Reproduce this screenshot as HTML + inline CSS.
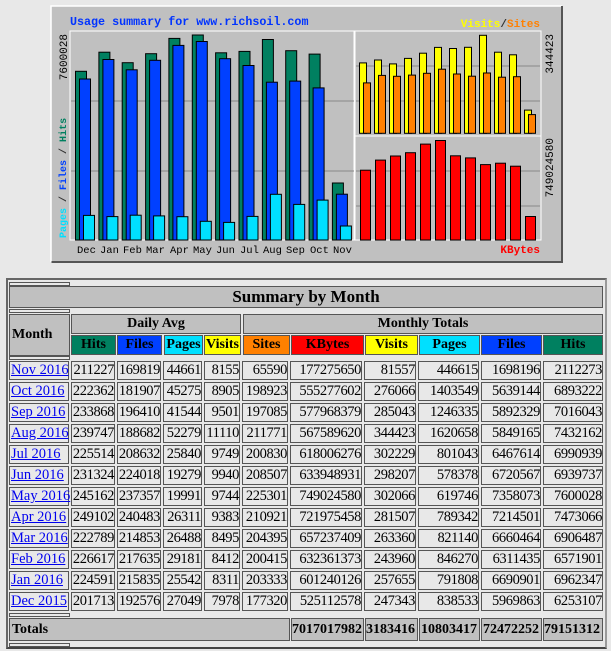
<!DOCTYPE html>
<html><head><meta charset="utf-8"><style>
body{margin:0;width:611px;height:651px;background:#e8e8e8;position:relative;overflow:hidden;font-family:"Liberation Serif",serif}
.a{position:absolute;box-sizing:border-box}
.c{border:1px solid #555;font-weight:bold;font-size:14px;text-align:center;line-height:17px}
.sp{position:absolute;left:9px;width:61px;height:4px;border:1px solid #555;background:#e8e8e8;box-sizing:border-box}
table{position:absolute;left:7px;top:359px;width:598px;border-collapse:separate;border-spacing:2px;table-layout:fixed}
td{box-sizing:border-box;border:1px solid #555;height:19px;padding:0;font-size:14.5px;letter-spacing:-0.4px;text-align:right;line-height:17px;background:#e8e8e8;white-space:nowrap;overflow:visible}
td:first-child{text-align:left;padding-left:1px;letter-spacing:0}
a{color:#00e;text-decoration:underline}
</style></head><body>
<svg class="a" style="left:0;top:0" width="611" height="270" font-family="Liberation Mono, DejaVu Sans Mono, monospace">
<rect x="51" y="6" width="511" height="256" fill="#c0c0c0"/>
<path d="M51 262V6H562" stroke="#fff" stroke-width="1.5" fill="none"/>
<path d="M51.5 262H562V6" stroke="#555" stroke-width="2" fill="none"/>
<text x="70" y="25" fill="#0033ff" font-weight="bold" font-size="11.7">Usage summary for www.richsoil.com</text>
<text x="540" y="27" text-anchor="end" font-size="11" font-weight="bold"><tspan fill="#ffff00">Visits</tspan><tspan fill="#333">/</tspan><tspan fill="#ff8000">Sites</tspan></text>
<text x="540" y="253" text-anchor="end" font-size="11" font-weight="bold" fill="#ff0000">KBytes</text>
<text transform="translate(67,34) rotate(-90)" text-anchor="end" font-size="11" fill="#000">7600028</text>
<text transform="translate(66,238) rotate(-90)" font-size="10" font-weight="bold"><tspan fill="#00e0ff">Pages</tspan><tspan fill="#333"> / </tspan><tspan fill="#0040ff">Files</tspan><tspan fill="#333"> / </tspan><tspan fill="#008060">Hits</tspan></text>
<text transform="translate(553,34) rotate(-90)" text-anchor="end" font-size="11" fill="#000">344423</text>
<text transform="translate(553,138) rotate(-90)" text-anchor="end" font-size="11" fill="#000">749024580</text>
<g font-size="10.5" fill="#000">
<text x="77" y="253">Dec</text><text x="100" y="253">Jan</text><text x="123" y="253">Feb</text><text x="146" y="253">Mar</text><text x="170" y="253">Apr</text><text x="193" y="253">May</text><text x="216" y="253">Jun</text><text x="240" y="253">Jul</text><text x="263" y="253">Aug</text><text x="286" y="253">Sep</text><text x="310" y="253">Oct</text><text x="333" y="253">Nov</text>
</g>
<g stroke="#fff" fill="none"><rect x="70" y="31" width="284" height="209"/><rect x="355" y="31" width="186" height="105"/><rect x="355" y="136" width="186" height="104"/></g>
<g stroke="#888"><line x1="71" x2="354" y1="101" y2="101"/><line x1="71" x2="354" y1="171" y2="171"/><line x1="356" x2="540" y1="66" y2="66"/><line x1="356" x2="540" y1="101" y2="101"/><line x1="356" x2="540" y1="171" y2="171"/><line x1="356" x2="540" y1="206" y2="206"/></g>
<g stroke="#000" stroke-width="1">
<g fill="#008060">
<rect x="75.5" y="71.3" width="11" height="168.7"/><rect x="98.9" y="52.2" width="11" height="187.8"/><rect x="122.2" y="62.7" width="11" height="177.3"/><rect x="145.6" y="53.7" width="11" height="186.3"/><rect x="168.9" y="38.4" width="11" height="201.6"/><rect x="192.3" y="35" width="11" height="205"/><rect x="215.6" y="52.8" width="11" height="187.2"/><rect x="239" y="51.4" width="11" height="188.6"/><rect x="262.4" y="39.5" width="11" height="200.5"/><rect x="285.7" y="50.7" width="11" height="189.3"/><rect x="309.1" y="54.1" width="11" height="185.9"/><rect x="332.4" y="183" width="11" height="57"/>
</g>
<g fill="#0040ff">
<rect x="79.5" y="79" width="11" height="161"/><rect x="102.9" y="59.5" width="11" height="180.5"/><rect x="126.2" y="69.8" width="11" height="170.2"/><rect x="149.6" y="60.3" width="11" height="179.7"/><rect x="172.9" y="45.4" width="11" height="194.6"/><rect x="196.3" y="41.5" width="11" height="198.5"/><rect x="219.6" y="58.7" width="11" height="181.3"/><rect x="243" y="65.5" width="11" height="174.5"/><rect x="266.4" y="82.2" width="11" height="157.8"/><rect x="289.7" y="81.1" width="11" height="158.9"/><rect x="313.1" y="87.9" width="11" height="152.1"/><rect x="336.4" y="194.2" width="11" height="45.8"/>
</g>
<g fill="#00e0ff">
<rect x="83.5" y="215.4" width="11" height="24.6"/><rect x="106.9" y="216.6" width="11" height="23.4"/><rect x="130.2" y="215.2" width="11" height="24.8"/><rect x="153.6" y="215.9" width="11" height="24.1"/><rect x="176.9" y="216.7" width="11" height="23.3"/><rect x="200.3" y="221.3" width="11" height="18.7"/><rect x="223.6" y="222.4" width="11" height="17.6"/><rect x="247" y="216.4" width="11" height="23.6"/><rect x="270.4" y="194.3" width="11" height="45.7"/><rect x="293.7" y="204.4" width="11" height="35.6"/><rect x="317.1" y="200.1" width="11" height="39.9"/><rect x="340.4" y="226" width="11" height="14"/>
</g>
<g fill="#ffff00">
<rect x="359.5" y="62.9" width="7" height="70.4"/><rect x="374.5" y="60" width="7" height="73.3"/><rect x="389.5" y="63.9" width="7" height="69.4"/><rect x="404.5" y="58.4" width="7" height="74.9"/><rect x="419.5" y="53.2" width="7" height="80.1"/><rect x="434.5" y="47.4" width="7" height="85.9"/><rect x="449.5" y="48.5" width="7" height="84.8"/><rect x="464.5" y="47.3" width="7" height="86"/><rect x="479.5" y="35.3" width="7" height="98"/><rect x="494.5" y="52.2" width="7" height="81.1"/><rect x="509.5" y="54.8" width="7" height="78.5"/><rect x="524.5" y="110.1" width="7" height="23.2"/>
</g>
<g fill="#ff8000">
<rect x="363.5" y="82.9" width="7" height="50.4"/><rect x="378.5" y="75.4" width="7" height="57.9"/><rect x="393.5" y="76.3" width="7" height="57"/><rect x="408.5" y="75.1" width="7" height="58.2"/><rect x="423.5" y="73.3" width="7" height="60"/><rect x="438.5" y="69.2" width="7" height="64.1"/><rect x="453.5" y="74" width="7" height="59.3"/><rect x="468.5" y="76.2" width="7" height="57.1"/><rect x="483.5" y="73" width="7" height="60.3"/><rect x="498.5" y="77.2" width="7" height="56.1"/><rect x="513.5" y="76.7" width="7" height="56.6"/><rect x="528.5" y="114.6" width="7" height="18.7"/>
</g>
<g fill="#ff0000">
<rect x="360.5" y="170.2" width="10" height="69.8"/><rect x="375.5" y="160.1" width="10" height="79.9"/><rect x="390.5" y="156" width="10" height="84"/><rect x="405.5" y="152.7" width="10" height="87.3"/><rect x="420.5" y="144.1" width="10" height="95.9"/><rect x="435.5" y="140.5" width="10" height="99.5"/><rect x="450.5" y="155.8" width="10" height="84.2"/><rect x="465.5" y="157.9" width="10" height="82.1"/><rect x="480.5" y="164.6" width="10" height="75.4"/><rect x="495.5" y="163.2" width="10" height="76.8"/><rect x="510.5" y="166.2" width="10" height="73.8"/><rect x="525.5" y="216.5" width="10" height="23.5"/>
</g>
</g>
</svg>

<div class="a" style="left:6px;top:278px;width:601px;height:371px;border:2px solid #666;border-right-color:#999;border-bottom-color:#444"></div>
<div class="sp" style="top:282px"></div>
<div class="a c" style="left:9px;top:286px;width:594px;height:22px;background:#c0c0c0;font-size:17px;line-height:20px">Summary by Month</div>
<div class="sp" style="top:309px"></div>
<div class="a c" style="left:9px;top:314px;width:61px;height:42px;background:#c0c0c0;text-align:left;line-height:40px;padding-left:2px">Month</div>
<div class="a c" style="left:71px;top:314px;width:170px;height:20px;background:#c0c0c0">Daily Avg</div>
<div class="a c" style="left:243px;top:314px;width:360px;height:20px;background:#c0c0c0">Monthly Totals</div>
<div class="a c" style="left:71px;top:335px;width:45px;height:20px;background:#008060">Hits</div>
<div class="a c" style="left:117px;top:335px;width:45px;height:20px;background:#0040ff">Files</div>
<div class="a c" style="left:164px;top:335px;width:39px;height:20px;background:#00e0ff">Pages</div>
<div class="a c" style="left:204px;top:335px;width:37px;height:20px;background:#ffff00">Visits</div>
<div class="a c" style="left:243px;top:335px;width:47px;height:20px;background:#ff8000">Sites</div>
<div class="a c" style="left:291px;top:335px;width:73px;height:20px;background:#ff0000">KBytes</div>
<div class="a c" style="left:365px;top:335px;width:53px;height:20px;background:#ffff00">Visits</div>
<div class="a c" style="left:419px;top:335px;width:61px;height:20px;background:#00e0ff">Pages</div>
<div class="a c" style="left:481px;top:335px;width:61px;height:20px;background:#0040ff">Files</div>
<div class="a c" style="left:543px;top:335px;width:60px;height:20px;background:#008060">Hits</div>
<div class="sp" style="top:356px"></div>

<table>
<colgroup><col style="width:60px"><col style="width:44px"><col style="width:44px"><col style="width:39px"><col style="width:36px"><col style="width:46px"><col style="width:72px"><col style="width:52px"><col style="width:61px"><col style="width:60px"><col style="width:60px"></colgroup>
<tr><td><a>Nov 2016</a></td><td>211227</td><td>169819</td><td>44661</td><td>8155</td><td>65590</td><td>177275650</td><td>81557</td><td>446615</td><td>1698196</td><td>2112273</td></tr>
<tr><td><a>Oct 2016</a></td><td>222362</td><td>181907</td><td>45275</td><td>8905</td><td>198923</td><td>555277602</td><td>276066</td><td>1403549</td><td>5639144</td><td>6893222</td></tr>
<tr><td><a>Sep 2016</a></td><td>233868</td><td>196410</td><td>41544</td><td>9501</td><td>197085</td><td>577968379</td><td>285043</td><td>1246335</td><td>5892329</td><td>7016043</td></tr>
<tr><td><a>Aug 2016</a></td><td>239747</td><td>188682</td><td>52279</td><td>11110</td><td>211771</td><td>567589620</td><td>344423</td><td>1620658</td><td>5849165</td><td>7432162</td></tr>
<tr><td><a>Jul 2016</a></td><td>225514</td><td>208632</td><td>25840</td><td>9749</td><td>200830</td><td>618006276</td><td>302229</td><td>801043</td><td>6467614</td><td>6990939</td></tr>
<tr><td><a>Jun 2016</a></td><td>231324</td><td>224018</td><td>19279</td><td>9940</td><td>208507</td><td>633948931</td><td>298207</td><td>578378</td><td>6720567</td><td>6939737</td></tr>
<tr><td><a>May 2016</a></td><td>245162</td><td>237357</td><td>19991</td><td>9744</td><td>225301</td><td>749024580</td><td>302066</td><td>619746</td><td>7358073</td><td>7600028</td></tr>
<tr><td><a>Apr 2016</a></td><td>249102</td><td>240483</td><td>26311</td><td>9383</td><td>210921</td><td>721975458</td><td>281507</td><td>789342</td><td>7214501</td><td>7473066</td></tr>
<tr><td><a>Mar 2016</a></td><td>222789</td><td>214853</td><td>26488</td><td>8495</td><td>204395</td><td>657237409</td><td>263360</td><td>821140</td><td>6660464</td><td>6906487</td></tr>
<tr><td><a>Feb 2016</a></td><td>226617</td><td>217635</td><td>29181</td><td>8412</td><td>200415</td><td>632361373</td><td>243960</td><td>846270</td><td>6311435</td><td>6571901</td></tr>
<tr><td><a>Jan 2016</a></td><td>224591</td><td>215835</td><td>25542</td><td>8311</td><td>203333</td><td>601240126</td><td>257655</td><td>791808</td><td>6690901</td><td>6962347</td></tr>
<tr><td><a>Dec 2015</a></td><td>201713</td><td>192576</td><td>27049</td><td>7978</td><td>177320</td><td>525112578</td><td>247343</td><td>838533</td><td>5969863</td><td>6253107</td></tr>
</table>

<div class="sp" style="top:613px"></div>
<div class="a c" style="left:9px;top:618px;width:281px;height:23px;background:#c0c0c0;text-align:left;padding-left:2px;line-height:21px">Totals</div>
<div class="a c" style="left:291px;top:618px;width:73px;height:23px;background:#c0c0c0;text-align:right;padding-right:2px;line-height:21px">7017017982</div>
<div class="a c" style="left:365px;top:618px;width:53px;height:23px;background:#c0c0c0;text-align:right;padding-right:2px;line-height:21px">3183416</div>
<div class="a c" style="left:419px;top:618px;width:61px;height:23px;background:#c0c0c0;text-align:right;padding-right:2px;line-height:21px">10803417</div>
<div class="a c" style="left:481px;top:618px;width:61px;height:23px;background:#c0c0c0;text-align:right;padding-right:2px;line-height:21px">72472252</div>
<div class="a c" style="left:543px;top:618px;width:60px;height:23px;background:#c0c0c0;text-align:right;padding-right:2px;line-height:21px">79151312</div>
<div class="sp" style="top:643px"></div>
</body></html>
